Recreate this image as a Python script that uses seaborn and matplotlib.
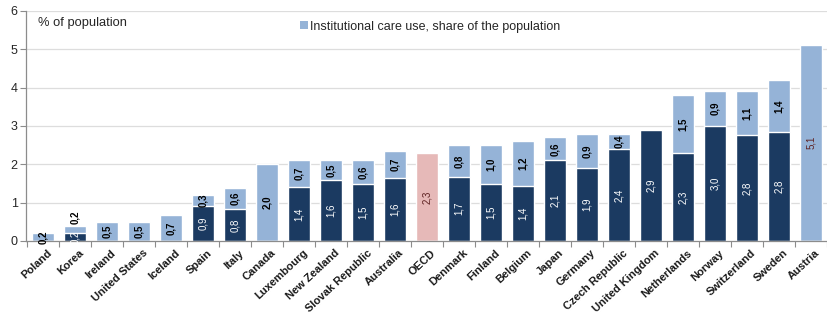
import matplotlib
matplotlib.use("Agg")
import matplotlib.pyplot as plt
from matplotlib.patches import Patch
import seaborn as sns
import pandas as pd

countries = ["Poland", "Korea", "Ireland", "United States", "Iceland", "Spain", "Italy",
             "Canada", "Luxembourg", "New Zealand", "Slovak Republic", "Australia", "OECD",
             "Denmark", "Finland", "Belgium", "Japan", "Germany", "Czech Republic",
             "United Kingdom", "Netherlands", "Norway", "Switzerland", "Sweden", "Austria"]
lower_share = [0.0, 0.2, 0.0, 0.0, 0.0, 0.91, 0.83, 0.0, 1.41, 1.60, 1.48, 1.64, 0.0,
               1.68, 1.48, 1.43, 2.10, 1.90, 2.39, 2.90, 2.30, 3.00, 2.77, 2.84, 0.0]
institutional = [0.2, 0.2, 0.49, 0.49, 0.68, 0.28, 0.56, 2.0, 0.69, 0.5, 0.62, 0.71, 2.29,
                 0.82, 1.02, 1.17, 0.6, 0.9, 0.41, 0.0, 1.5, 0.9, 1.13, 1.36, 5.12]
y_ticks = [0, 1, 2, 3, 4, 5, 6]

LIGHT = "#95B3D7"
DARK = "#1B3A61"
PINK = "#E6B9B8"
LABEL_RED = "#5E2222"

df = pd.DataFrame({"country": countries, "lower": lower_share, "inst": institutional})
df["total"] = df["lower"] + df["inst"]

sns.set_theme(style="white")
plt.rcParams["font.family"] = ["Liberation Sans", "DejaVu Sans"]

fig = plt.figure(figsize=(8.28, 3.2), dpi=100)
ax = fig.add_axes([0.0314, 0.247, 0.967, 0.719])

palette = {c: (PINK if c == "OECD" else LIGHT) for c in countries}
sns.barplot(data=df, x="country", y="total", hue="country", palette=palette,
            legend=False, width=0.68, saturation=1, ax=ax, zorder=2)
sns.barplot(data=df, x="country", y="lower", color=DARK, width=0.68,
            saturation=1, ax=ax, zorder=3)

ax.set_xlim(-0.53, 24.5)
ax.set_ylim(0, 6)
ax.set_yticks(y_ticks)
ax.set_yticklabels([str(t) for t in y_ticks], fontsize=9, color="#262626")
ax.set_xlabel("")
ax.set_ylabel("")

# horizontal gridlines
for t in y_ticks[1:]:
    ax.axhline(t, color="#DDDDDD", lw=0.9, zorder=0)

for side in ["top", "right"]:
    ax.spines[side].set_visible(False)
for side in ["left", "bottom"]:
    ax.spines[side].set_color("#8C8C8C")
    ax.spines[side].set_linewidth(0.9)
    ax.spines[side].set_zorder(4)

ax.tick_params(axis="y", length=4, width=0.8, color="#8C8C8C", pad=2, direction="out", left=True)
ax.set_xticks([i + 0.12 for i in range(len(countries))])
ax.set_xticklabels(countries, rotation=43, ha="right", va="top",
                   rotation_mode="anchor", fontsize=8, fontweight="bold", color="#1A1A1A")
ax.tick_params(axis="x", length=0, pad=5)
ax.set_xticks([i + 0.5 for i in range(-1, len(countries))], minor=True)
ax.tick_params(axis="x", which="minor", length=4, width=0.8, color="#8C8C8C", bottom=True)


def fmt(v):
    return f"{v:.1f}".replace(".", ",")


for i, row in df.iterrows():
    lo, hi = row["lower"], row["inst"]
    if lo > 0:
        ax.text(i, lo / 2, fmt(lo), rotation=90, ha="center", va="center",
                fontsize=7, color="white", zorder=5)
    if hi > 0:
        if row["country"] in ("OECD", "Austria"):
            ax.text(i, lo + hi / 2, fmt(hi), rotation=90, ha="center", va="center",
                    fontsize=7, color=LABEL_RED, zorder=5)
        elif lo > 0 and hi < 0.25:
            ax.text(i, lo + hi + 0.05, fmt(hi), rotation=90, ha="center", va="bottom",
                    fontsize=7, fontweight="bold", color="black", zorder=5)
        else:
            ax.text(i, lo + hi / 2, fmt(hi), rotation=90, ha="center", va="center",
                    fontsize=7, fontweight="bold", color="black", zorder=5)

ax.text(-0.16, 5.85, "% of population", fontsize=9.3, color="#262626",
        ha="left", va="top", transform=ax.transData, zorder=5)

handle = Patch(facecolor=LIGHT, edgecolor="none")
fig.legend([handle], ["Institutional care use, share of the population"],
           loc="center left", bbox_to_anchor=(0.349, 0.917), frameon=False,
           fontsize=9, handlelength=0.6, handleheight=0.6, handletextpad=0.2,
           labelcolor="#262626")

fig.savefig("out.png", dpi=100)
